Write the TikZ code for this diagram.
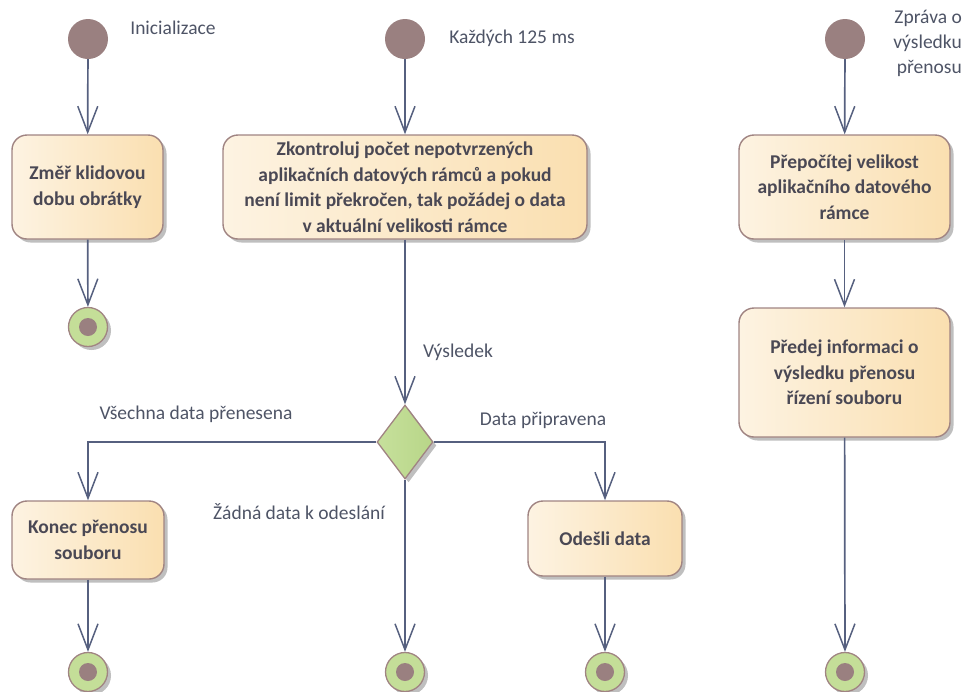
\documentclass[tikz,border=0pt]{standalone}
\usepackage{fontspec}
\setmainfont{Carlito}
\usetikzlibrary{arrows.meta,shapes.geometric,shadows,calc}

\definecolor{flow}{HTML}{56607F}
\definecolor{lbl}{HTML}{4E5466}
\definecolor{boxtext}{HTML}{4A4854}
\definecolor{boxedge}{HTML}{A08482}
\definecolor{boxleft}{HTML}{FDF3E2}
\definecolor{boxright}{HTML}{FADFB0}
\definecolor{startfill}{HTML}{9A8080}
\definecolor{endfill}{HTML}{C4DE98}
\definecolor{dleft}{HTML}{C6E09C}
\definecolor{dright}{HTML}{B8D688}

\tikzset{
  shade/.style={drop shadow={shadow xshift=3.5pt,shadow yshift=-3.5pt,fill=black,opacity=0.25}},
  action/.style={draw=boxedge, line width=1.4pt, rounded corners=15pt,
    left color=boxleft, right color=boxright, shade,
    text=boxtext, font=\fontsize{19.5}{25.5}\selectfont\bfseries,
    align=center, inner sep=0pt},
  initial/.style={circle, fill=startfill, minimum size=40pt, inner sep=0pt},
  final/.style={circle, draw=boxedge, line width=1.3pt, fill=endfill,
    minimum size=39pt, inner sep=0pt, shade,
    path picture={\fill[startfill] (path picture bounding box.center) circle (9pt);}},
  decision/.style={diamond, draw=boxedge, line width=1.3pt, left color=dleft,
    right color=dright, minimum width=56pt, minimum height=74pt, inner sep=0pt,
    aspect=0.76, shade},
  flowto/.style={draw=flow, line width=1.7pt,
    -{Straight Barb[length=26pt,width=20pt,line width=1.5pt]}},
  note/.style={text=lbl, font=\fontsize{19.5}{25}\selectfont, inner sep=0pt},
}

\begin{document}
\begin{tikzpicture}[x=1pt,y=-1pt]
  \useasboundingbox (0,0) rectangle (963,691);

  % starting points
  \node[initial] (s1) at (88,39) {};
  \node[initial] (s2) at (405,39) {};
  \node[initial] (s3) at (845,39) {};
  \node[note] (t1) at (173,28) {Inicializace};
  \node[note] (t2) at (512,38) {Každých 125 ms};
  \node[note, align=right, anchor=east] (t3) at (962,43) {Zpráva o\\výsledku\\přenosu};

  % actions
  \node[action, minimum width=151pt, minimum height=104pt] (measure) at (87.5,187)
    {Změř klidovou\\dobu obrátky};
  \node[action, minimum width=364pt, minimum height=104pt] (check) at (405,187)
    {Zkontroluj počet nepotvrzených\\aplikačních datových rámců a pokud\\není limit překročen, tak požádej o data\\v aktuální velikosti rámce};
  \node[action, minimum width=211pt, minimum height=104pt] (resize) at (844.5,187)
    {Přepočítej velikost\\aplikačního datového\\rámce};
  \node[action, minimum width=211pt, minimum height=129pt] (report) at (844.5,372.5)
    {Předej informaci o\\výsledku přenosu\\řízení souboru};
  \node[action, minimum width=152pt, minimum height=78pt] (stop) at (88,540)
    {Konec přenosu\\souboru};
  \node[action, minimum width=154pt, minimum height=75pt] (send) at (605,538.5)
    {Odešli data};

  % decision
  \node[decision] (dec) at (405,442) {};

  % final nodes
  \node[final] (f1) at (88,327) {};
  \node[final] (f2) at (88,672) {};
  \node[final] (f3) at (405,672) {};
  \node[final] (f4) at (605,672) {};
  \node[final] (f5) at (845,672) {};

  % flows
  \draw[flowto] (s1) -- (measure);
  \draw[flowto] (measure) -- (f1);
  \draw[flowto] (s2) -- (check);
  \draw[flowto] (check) -- (dec);
  \draw[flowto] (dec.west) -| (stop.north);
  \draw[flowto] (dec.east) -| (send.north);
  \draw[flowto] (dec.south) -- (f3);
  \draw[flowto] (stop) -- (f2);
  \draw[flowto] (send) -- (f4);
  \draw[flowto] (s3) -- (resize);
  \draw[flowto] (resize) -- (report);
  \draw[flowto] (report) -- (f5);

  % flow labels
  \node[note] (l1) at (458,352) {Výsledek};
  \node[note] (l2) at (196,414) {Všechna data přenesena};
  \node[note] (l3) at (543,420) {Data připravena};
  \node[note] (l4) at (299,512) {Žádná data k odeslání};
\end{tikzpicture}
\end{document}
